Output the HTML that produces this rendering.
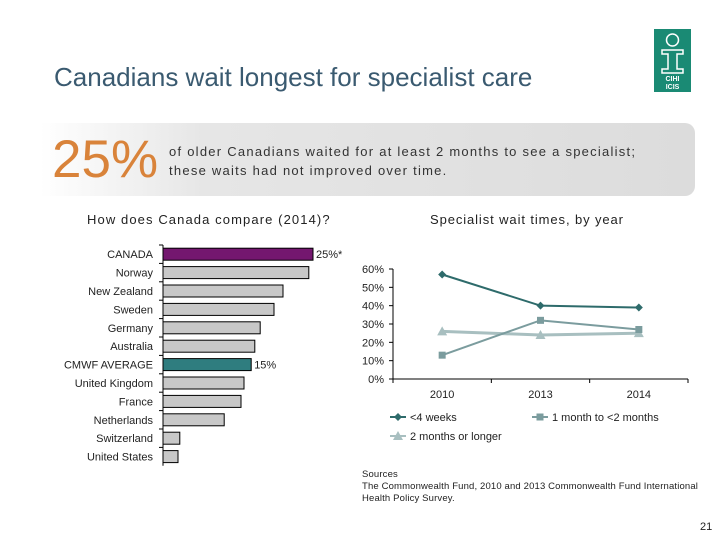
<!DOCTYPE html>
<html><head><meta charset="utf-8"><style>
body{margin:0;width:720px;height:540px;background:#fff;font-family:"Liberation Sans",Arial,sans-serif;position:relative;overflow:hidden}
.a{position:absolute}
</style></head><body>
<div class="a" style="left:54px;top:62px;font-size:26px;color:#3a5a70">Canadians wait longest for specialist care</div>
<div class="a" style="left:654px;top:29px;width:37px;height:63px;background:#1a8a74">
<svg width="37" height="63"><circle cx="18.5" cy="11" r="6" fill="none" stroke="#fff" stroke-width="1.5"/><path d="M8 21h21v4h-6v15h6v4H8v-4h6V25H8z" fill="none" stroke="#fff" stroke-width="1.5"/><text x="18.5" y="52" font-size="7" fill="#fff" text-anchor="middle" font-weight="bold" font-family="Liberation Sans">CIHI</text><text x="18.5" y="60" font-size="7" fill="#fff" text-anchor="middle" font-weight="bold" font-family="Liberation Sans">ICIS</text></svg></div>
<div class="a" style="left:40px;top:123px;width:655px;height:73px;background:linear-gradient(90deg,#fff 0%,#e6e6e6 25%,#dcdcdc 100%);border-radius:0 10px 10px 0"></div>
<div class="a" style="left:52px;top:130px;font-size:53px;color:#d9833a;line-height:60px">25%</div>
<div class="a" style="left:169px;top:142px;font-size:13px;color:#333;line-height:19px;letter-spacing:1.25px">of older Canadians waited for at least 2 months to see a specialist;<br>these waits had not improved over time.</div>
<div class="a" style="left:87px;top:212px;font-size:13px;color:#222;letter-spacing:1.1px">How does Canada compare (2014)?</div>
<div class="a" style="left:430px;top:212px;font-size:13px;color:#222;letter-spacing:0.9px">Specialist wait times, by year</div>
<svg class="a" id="bars" style="left:0;top:0" width="720" height="540"></svg>
<svg class="a" id="lines" style="left:0;top:0" width="720" height="540"></svg>
<div class="a" style="left:362px;top:469px;font-size:9.5px;color:#222;line-height:12px;letter-spacing:0.15px">Sources<br>The Commonwealth Fund, 2010 and 2013 Commonwealth Fund International<br>Health Policy Survey.</div>
<div class="a" style="left:700px;top:521px;font-size:11px;color:#222">21</div>
<script>
const countries=["CANADA","Norway","New Zealand","Sweden","Germany","Australia","CMWF AVERAGE","United Kingdom","France","Netherlands","Switzerland","United States"];
const shares=[25,24.3,20,18.5,16.2,15.3,14.7,13.5,13,10.2,2.8,2.5];
const barLabels=["25%*","","","","","","15%","","","","",""];
const years=["2010","2013","2014"];
const under4w=[57,40,39];
const oneTo2m=[13,32,27];
const over2m=[26,24,25];
const yTicks=[0,10,20,30,40,50,60];
const NS="http://www.w3.org/2000/svg";
function mk(p,t,a){const e=document.createElementNS(NS,t);for(const k in a)e.setAttribute(k,a[k]);p.appendChild(e);return e;}
const B=document.getElementById('bars');
const bx0=163,bscale=6,by0=245,bstep=18.4,bh=12;
const bxs=v=>bx0+v*bscale;
const byc=i=>by0+i*bstep+bstep/2;
let ax=mk(B,'line',{x1:bx0,y1:by0,x2:bx0,y2:by0+bstep*countries.length,stroke:'#000'});

countries.forEach((c,i)=>{
 const y=byc(i);
 const col=i===0?'#74176f':(i===6?'#2f7d7f':'#c8c8c8');
 const r=mk(B,'rect',{x:bx0,y:y-bh/2,width:bxs(shares[i])-bx0,height:bh,fill:col,stroke:'#000','stroke-width':1});
 
 
 const t=mk(B,'text',{x:153,y:y+4,'text-anchor':'end','font-size':11,fill:'#222'});t.textContent=c;
 
 mk(B,'line',{x1:bx0-4,y1:by0+i*bstep,x2:bx0,y2:by0+i*bstep,stroke:'#000'});
 if(barLabels[i]){const v=mk(B,'text',{x:bxs(shares[i])+3,y:y+4,'font-size':11,fill:'#222'});v.textContent=barLabels[i];
 }
});
const L=document.getElementById('lines');
const lx0=393,lx1=688,ly0=379,lys=110/60;
const ys=v=>ly0-v*lys;
const cw=(lx1-lx0)/years.length;
const xs=i=>lx0+cw*(i+0.5);
let ya=mk(L,'line',{x1:lx0,y1:ys(60),x2:lx0,y2:ly0,stroke:'#000'});

let xa=mk(L,'line',{x1:lx0,y1:ly0,x2:lx1,y2:ly0,stroke:'#000'});

yTicks.forEach(v=>{mk(L,'line',{x1:lx0-4,y1:ys(v),x2:lx0,y2:ys(v),stroke:'#000'});
 const t=mk(L,'text',{x:lx0-9,y:ys(v)+4,'text-anchor':'end','font-size':11,fill:'#222'});t.textContent=v+'%';
 });
for(let i=0;i<=years.length;i++)mk(L,'line',{x1:lx0+cw*i,y1:ly0,x2:lx0+cw*i,y2:ly0+4,stroke:'#000'});
years.forEach((y,i)=>{const t=mk(L,'text',{x:xs(i),y:ly0+19,'text-anchor':'middle','font-size':11,fill:'#222'});t.textContent=y;
 });
function marker(g,shape,x,y,c){
 if(shape==='d')return mk(g,'path',{d:`M${x} ${y-4}L${x+4} ${y}L${x} ${y+4}L${x-4} ${y}Z`,fill:c});
 if(shape==='s')return mk(g,'rect',{x:x-3.5,y:y-3.5,width:7,height:7,fill:c});
 return mk(g,'path',{d:`M${x} ${y-5}L${x+5} ${y+4}L${x-5} ${y+4}Z`,fill:c});
}
const series=[[over2m,'#a8bfc0','t',3,'series-2-months-or-longer'],[oneTo2m,'#7b9c9e','s',2,'series-1-to-2-months'],[under4w,'#2e6b6b','d',2,'series-under-4-weeks']];
series.forEach(([d,c,sh,w,n])=>{
 const g=mk(L,'g',{});
 mk(g,'polyline',{points:d.map((v,i)=>xs(i)+','+ys(v)).join(' '),fill:'none',stroke:c,'stroke-width':w});
 d.forEach((v,i)=>{const m=marker(g,sh,xs(i),ys(v),c);});
});
const legend=[[ '<4 weeks','#2e6b6b','d',398,417],['1 month to <2 months','#7b9c9e','s',540,417],['2 months or longer','#a8bfc0','t',398,436]];
legend.forEach(([lab,c,sh,x,y])=>{const g=mk(L,'g',{});
 mk(g,'line',{x1:x-8,y1:y,x2:x+8,y2:y,stroke:c,'stroke-width':2});marker(g,sh,x,y,c);
 const t=mk(g,'text',{x:x+12,y:y+4,'font-size':11,fill:'#222'});t.textContent=lab;});
</script>
</body></html>
